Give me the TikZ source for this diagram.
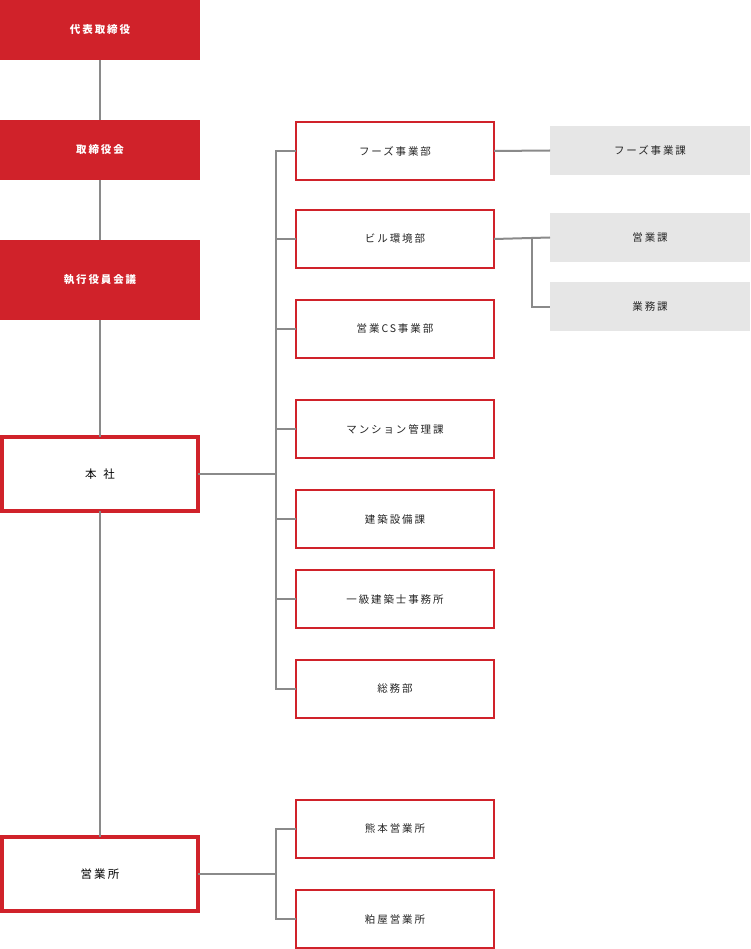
\documentclass[tikz,border=0pt]{standalone}
\usepackage{fontspec}
\setmainfont{Noto Sans CJK JP}[LetterSpace=18]
\definecolor{cred}{HTML}{D0222A}
\definecolor{cgray}{HTML}{E6E6E6}
\definecolor{cline}{HTML}{8A8A8A}
\begin{document}
\begin{tikzpicture}[x=1pt,y=-1pt,
  box/.style={anchor=north west,inner sep=0,outer sep=0,minimum width=200pt,font=\fontsize{10.5}{12}\selectfont},
  redbox/.style={box,fill=cred,text=white,font=\fontsize{10.5}{12}\selectfont\bfseries},
  thickbox/.style={box,draw=cred,line width=4pt,fill=white,minimum width=196pt,font=\fontsize{11.5}{13}\selectfont},
  midbox/.style={box,draw=cred,line width=2pt,fill=white,minimum width=198pt,minimum height=58pt,text=black!85},
  graybox/.style={box,fill=cgray,minimum height=49pt,text=black!85},
  conn/.style={draw=cline,line width=2pt}]
\useasboundingbox (0,0) rectangle (750,949);
\node[redbox,minimum height=60pt] (a) at (0,0) {代表取締役};
\node[redbox,minimum height=60pt] (b) at (0,120) {取締役会};
\node[redbox,minimum height=80pt] (c) at (0,240) {執行役員会議};
\node[thickbox,minimum height=74pt] (d) at (2,437) {本\hspace{0.6em}社};
\node[thickbox,minimum height=74pt] (e) at (2,837) {営業所};
\node[midbox] (m1) at (296,122) {フーズ事業部};
\node[midbox] (m2) at (296,210) {ビル環境部};
\node[midbox] (m3) at (296,300) {営業CS事業部};
\node[midbox] (m4) at (296,400) {マンション管理課};
\node[midbox] (m5) at (296,490) {建築設備課};
\node[midbox] (m6) at (296,570) {一級建築士事務所};
\node[midbox] (m7) at (296,660) {総務部};
\node[midbox] (n1) at (296,800) {熊本営業所};
\node[midbox] (n2) at (296,890) {粕屋営業所};
\node[graybox] (g1) at (550,126) {フーズ事業課};
\node[graybox] (g2) at (550,213) {営業課};
\node[graybox] (g3) at (550,282) {業務課};
\coordinate (bus) at (276,474);
\coordinate (bus2) at (276,874);
\coordinate (sp) at (532,239);
\draw[conn] (a.south) -- (b.north);
\draw[conn] (b.south) -- (c.north);
\draw[conn] (c.south) -- (d.north);
\draw[conn] (d.south) -- (e.north);
\draw[conn] (d.east) -- (bus);
\draw[conn] (e.east) -- (bus2);
\draw[conn] (m1.west) -| (bus);
\draw[conn] (m7.west) -| (bus);
\foreach \m in {m2,m3,m4,m5,m6} \draw[conn] (\m.west) -- (\m.west -| bus);
\draw[conn] (n1.west) -| (bus2) |- (n2.west);
\draw[conn] (m1.east) -- (g1.west);
\draw[conn] (m2.east) -- (g2.west);
\draw[conn] (sp) |- (g3.west);
\end{tikzpicture}
\end{document}
